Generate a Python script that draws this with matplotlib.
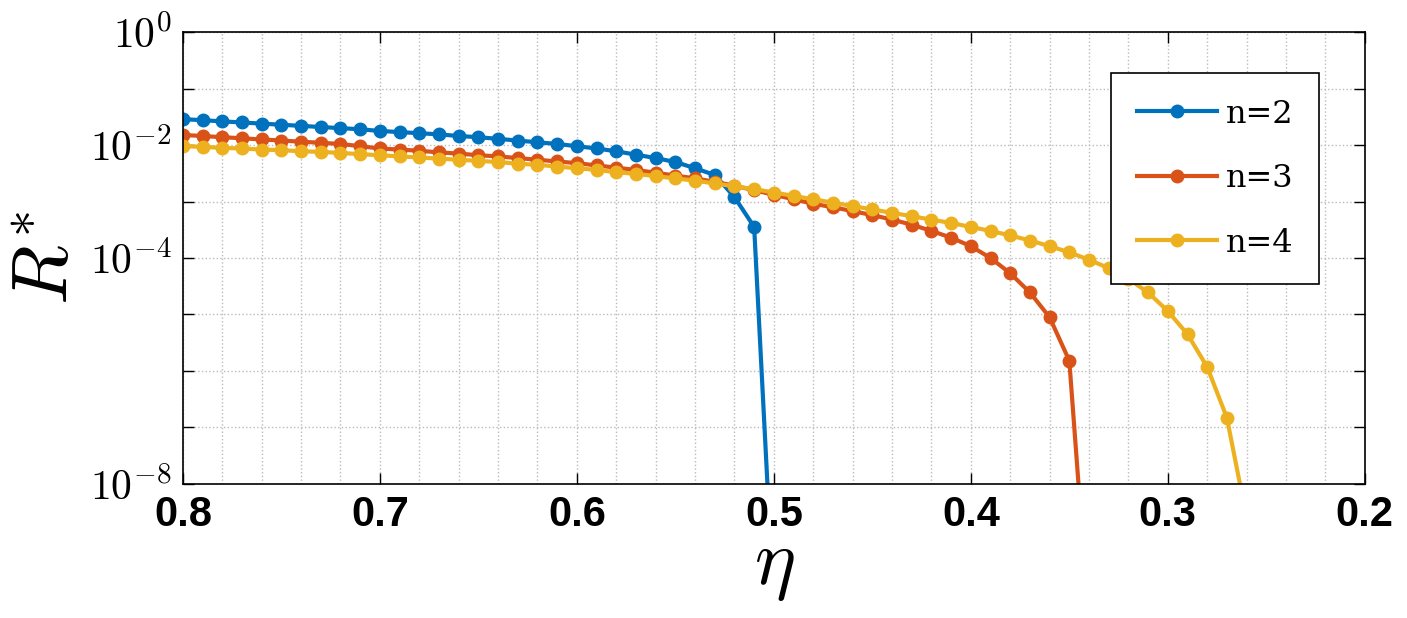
import numpy as np
import matplotlib
matplotlib.use("Agg")
import matplotlib.pyplot as plt
plt.rcParams['mathtext.fontset'] = 'cm'

eta_n2 = [0.80,0.79,0.78,0.77,0.76,0.75,0.74,0.73,0.72,0.71,0.70,0.69,0.68,0.67,0.66,0.65,0.64,0.63,0.62,0.61,0.60,0.59,0.58,0.57,0.56,0.55,0.54,0.53,0.52,0.51,0.50]
log_n2 = [-1.54,-1.56,-1.58,-1.60,-1.62,-1.64,-1.66,-1.68,-1.70,-1.72,-1.75,-1.77,-1.79,-1.81,-1.84,-1.86,-1.89,-1.92,-1.95,-1.98,-2.02,-2.06,-2.11,-2.17,-2.23,-2.30,-2.41,-2.53,-2.92,-3.45,-10.2]

eta_n3 = [0.80,0.79,0.78,0.77,0.76,0.75,0.74,0.73,0.72,0.71,0.70,0.69,0.68,0.67,0.66,0.65,0.64,0.63,0.62,0.61,0.60,0.59,0.58,0.57,0.56,0.55,0.54,0.53,0.52,0.51,0.50,0.49,0.48,0.47,0.46,0.45,0.44,0.43,0.42,0.41,0.40,0.39,0.38,0.37,0.36,0.35,0.34]
log_n3 = [-1.82,-1.84,-1.86,-1.88,-1.90,-1.92,-1.94,-1.96,-1.98,-2.02,-2.06,-2.08,-2.10,-2.13,-2.15,-2.18,-2.20,-2.23,-2.26,-2.29,-2.32,-2.36,-2.40,-2.44,-2.49,-2.54,-2.59,-2.65,-2.72,-2.80,-2.88,-2.96,-3.04,-3.10,-3.17,-3.24,-3.32,-3.41,-3.52,-3.64,-3.79,-4.00,-4.27,-4.61,-5.05,-5.82,-10.5]

eta_n4 = [0.80,0.79,0.78,0.77,0.76,0.75,0.74,0.73,0.72,0.71,0.70,0.69,0.68,0.67,0.66,0.65,0.64,0.63,0.62,0.61,0.60,0.59,0.58,0.57,0.56,0.55,0.54,0.53,0.52,0.51,0.50,0.49,0.48,0.47,0.46,0.45,0.44,0.43,0.42,0.41,0.40,0.39,0.38,0.37,0.36,0.35,0.34,0.33,0.32,0.31,0.30,0.29,0.28,0.27,0.26]
log_n4 = [-2.02,-2.03,-2.05,-2.06,-2.08,-2.09,-2.11,-2.12,-2.14,-2.16,-2.18,-2.20,-2.22,-2.24,-2.26,-2.28,-2.30,-2.33,-2.35,-2.38,-2.41,-2.44,-2.48,-2.51,-2.55,-2.59,-2.63,-2.68,-2.73,-2.78,-2.84,-2.90,-2.96,-3.02,-3.08,-3.14,-3.20,-3.26,-3.32,-3.38,-3.45,-3.52,-3.60,-3.69,-3.79,-3.90,-4.03,-4.18,-4.37,-4.61,-4.94,-5.35,-5.93,-6.83,-8.6]

labels = ["n=2", "n=3", "n=4"]
colors = ["#0072BD", "#D95319", "#EDB120"]
x_ticks = [0.8, 0.7, 0.6, 0.5, 0.4, 0.3, 0.2]
y_tick_exps = [0, -2, -4, -8]

fig = plt.figure(figsize=(14.07, 6.18), dpi=100)
ax = fig.add_axes([0.130, 0.217, 0.840, 0.731])
for eta, lg, lab, c in zip([eta_n2, eta_n3, eta_n4], [log_n2, log_n3, log_n4], labels, colors):
    ax.plot(eta, 10.0 ** np.array(lg), '-o', color=c, lw=3, ms=9, label=lab)

ax.set_yscale('log')
ax.set_xlim(0.8, 0.2)
ax.set_ylim(1e-8, 1e0)
ax.set_xticks(x_ticks)
ax.set_xticklabels([f"{v:.1f}" for v in x_ticks], fontsize=30, family="Liberation Sans", weight='bold')
ax.set_xticks(np.arange(0.2, 0.81, 0.02), minor=True)
ax.set_yticks([10.0 ** e for e in range(-8, 1)])
ax.set_yticklabels([f"$\\mathregular{{\\mathbf{{10^{{{e}}}}}}}$" if e in y_tick_exps else "" for e in range(-8, 1)],
                   fontsize=30, family="Liberation Sans", weight='bold')
ax.yaxis.set_minor_locator(matplotlib.ticker.NullLocator())
ax.tick_params(direction='in', length=8, width=1, which='major', top=True, right=True, pad=8)
ax.tick_params(which='minor', length=0)
ax.grid(True, which='major', axis='y', ls=':', color='#bbbbbb', lw=1)
ax.grid(True, which='both', axis='x', ls=':', color='#bbbbbb', lw=1)
for s in ax.spines.values():
    s.set_linewidth(1.2)
ax.set_xlabel(r'$\eta$', fontsize=56, labelpad=-6)
ax.set_ylabel(r'$R^{*}$', fontsize=56, labelpad=4)
leg = ax.legend(loc='upper right', bbox_to_anchor=(0.975, 0.945), fancybox=False, edgecolor='black',
                framealpha=1, prop={'family': 'DejaVu Serif', 'size': 23}, handlelength=2.5,
                labelspacing=1.05, borderpad=0.8, handletextpad=0.3)
leg.get_frame().set_linewidth(1.2)
fig.savefig("out.png", dpi=100)
